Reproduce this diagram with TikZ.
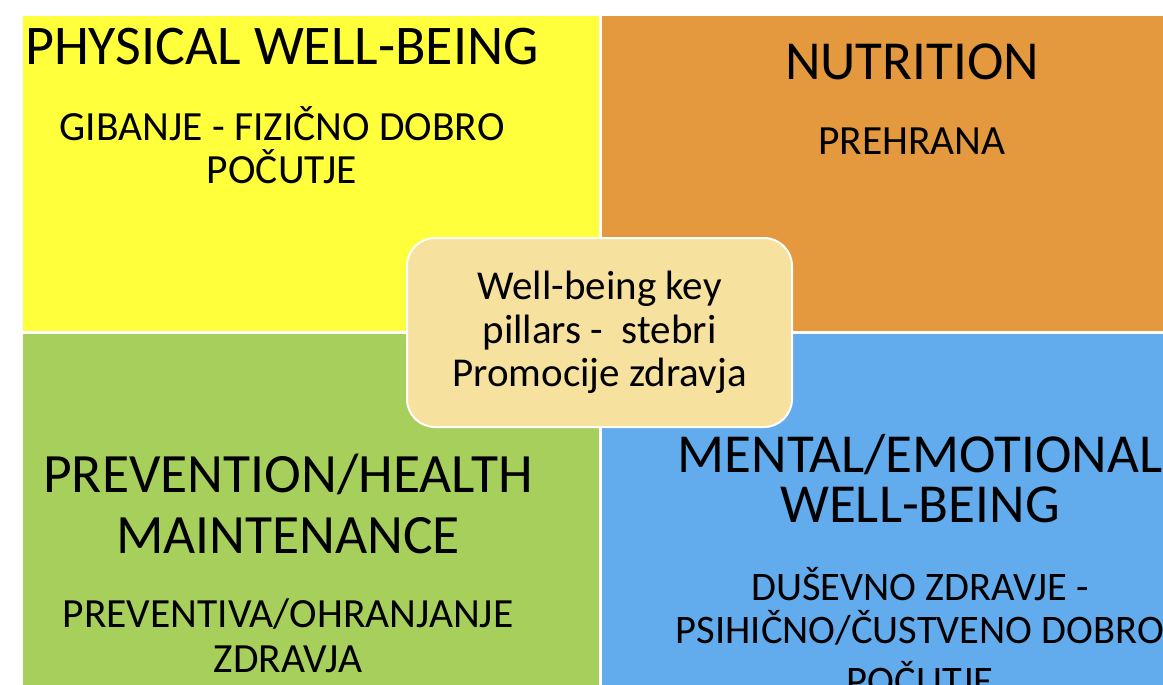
\documentclass[tikz,border=0pt]{standalone}
\usepackage{fontspec}
\setmainfont{Carlito}
\usetikzlibrary{positioning}

\definecolor{physyellow}{RGB}{255,255,59}
\definecolor{nutrorange}{RGB}{228,153,63}
\definecolor{prevgreen}{RGB}{167,207,91}
\definecolor{mentalblue}{RGB}{98,171,236}
\definecolor{pillarbeige}{RGB}{246,225,158}

\newcommand{\fsz}[2]{\fontsize{#1}{#2}\selectfont}

\begin{document}
\begin{tikzpicture}[x=1pt, y=-1pt,
  quad/.style={draw=white, line width=3pt, inner sep=0pt, outer sep=0pt, anchor=north west},
  label/.style={align=center, anchor=base, inner sep=0pt, text=black},
  pillar/.style={draw=white, line width=2pt, rounded corners=28pt, fill=pillarbeige,
    minimum width=385pt, minimum height=189pt, inner sep=0pt, align=center}]
  \useasboundingbox (0,0) rectangle (1163,685);
  \clip (0,0) rectangle (1163,685);

  % four quadrants
  \node[quad, fill=physyellow, minimum width=579pt, minimum height=317pt] (phys) at (21,15) {};
  \node[quad, fill=nutrorange, minimum width=580pt, minimum height=317pt] (nutr) at (600,15) {};
  \node[quad, fill=prevgreen, minimum width=579pt, minimum height=370pt] (prev) at (21,332) {};
  \node[quad, fill=mentalblue, minimum width=580pt, minimum height=370pt] (mental) at (600,332) {};

  % texts (anchored at the baseline of their last line)
  \node[label, font=\fsz{56}{62}] (physT) at (282,65) {PHYSICAL WELL-BEING};
  \node[label, font=\fsz{41.5}{43}] (physS) at (282,183) {GIBANJE - FIZIČNO DOBRO\\POČUTJE};
  \node[label, font=\fsz{55}{66}] (nutrT) at (912,80) {NUTRITION};
  \node[label, font=\fsz{41.5}{45}] (nutrS) at (912,154) {PREHRANA};
  \node[label, font=\fsz{55.5}{61.5}] (prevT) at (288,553.5) {PREVENTION/HEALTH\\MAINTENANCE};
  \node[label, font=\fsz{41.5}{45}] (prevS) at (288,672) {PREVENTIVA/OHRANJANJE\\ZDRAVJA};
  \node[label, font=\fsz{55}{50}] (mentalT) at (920,522) {MENTAL/EMOTIONAL\\WELL-BEING};
  \node[label, font=\fsz{40.5}{43}] (mentalS) at (920,694) {DUŠEVNO ZDRAVJE -\\PSIHIČNO/ČUSTVENO DOBRO\\[8pt]POČUTJE};

  % centre
  \node[pillar, font=\fsz{41}{43.5}] (pillars) at (599.5,332.5) {Well-being key\\pillars -\ \ stebri\\Promocije zdravja};
\end{tikzpicture}
\end{document}
